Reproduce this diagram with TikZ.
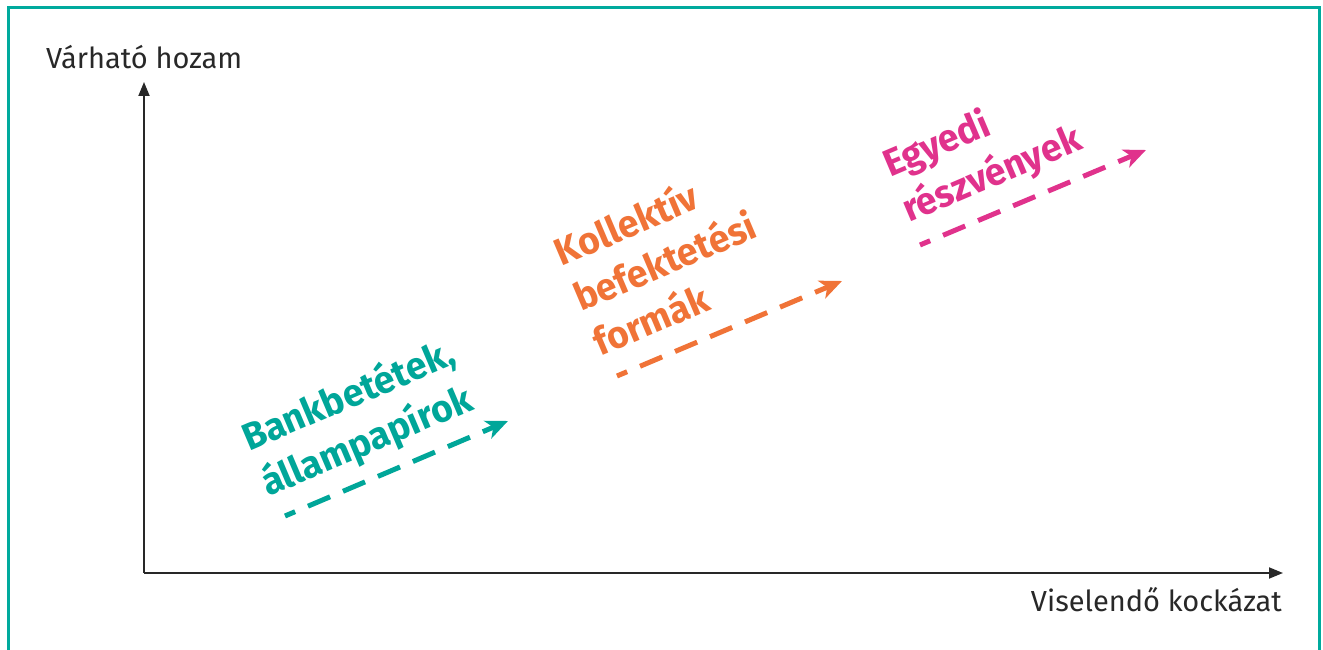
\documentclass[tikz,border=0pt]{standalone}
\usepackage{fontspec}
\setmainfont{Fira Sans}
\newfontfamily\catfont[FakeStretch=0.98]{Fira Sans}
\usetikzlibrary{arrows.meta}
\definecolor{frameteal}{RGB}{0,170,157}
\definecolor{cteal}{RGB}{0,166,153}
\definecolor{corange}{RGB}{240,115,55}
\definecolor{cpink}{RGB}{224,50,140}
\definecolor{axisgray}{RGB}{40,40,40}
\tikzset{
  axis/.style={draw=axisgray, line width=1.8pt, -{Triangle[length=14pt,width=11pt]}},
  axislabel/.style={font=\fontsize{29}{33}\selectfont, text=axisgray, inner sep=0pt},
  catlabel/.style={font=\catfont\fontsize{38}{49}\selectfont\bfseries, rotate=23, inner sep=0pt, align=left, anchor=base west},
  trend/.style={line width=5pt, dash pattern=on 24pt off 14pt, dash phase=13pt,
     -{Stealth[length=22pt,width=19pt,inset=6pt]}}
}
\begin{document}
\begin{tikzpicture}[x=1pt,y=1pt]
\useasboundingbox (0,0) rectangle (1323,650);
% frame
\draw[frameteal, line width=3pt] (8.5,-5) -- (8.5,642.5) -- (1319.5,642.5) -- (1319.5,-5);
% axes
\coordinate (O) at (144,77);
\coordinate (ytop) at (144,568);
\coordinate (xend) at (1283,77);
\draw[axis] (O) -- (ytop);
\draw[axis] (O) -- (xend);
\node[axislabel, anchor=base west] (ylab) at (46,581) {Várható hozam};
\node[axislabel, anchor=base east] (xlab) at (1282,38) {Viselendő kockázat};
% categories (anchor = baseline of last line)
\node[catlabel, text=cteal] (bank) at (268,153) {Bankbetétek,\\állampapírok};
\node[catlabel, text=corange] (koll) at (600,293) {Kollektív\\befektetési\\formák};
\node[catlabel, text=cpink] (egy) at (909,427) {Egyedi\\részvények};
% arrows
\coordinate (t1) at (285,134);
\coordinate (t2) at (508,229);
\coordinate (o1) at (617,274);
\coordinate (o2) at (842,369);
\coordinate (p1) at (920,405);
\coordinate (p2) at (1146,500);
\draw[trend, cteal] (t1) -- (t2);
\draw[trend, corange] (o1) -- (o2);
\draw[trend, cpink] (p1) -- (p2);
\end{tikzpicture}
\end{document}
